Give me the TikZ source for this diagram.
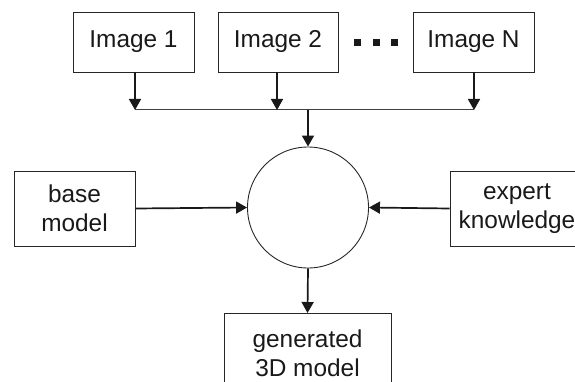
\documentclass[tikz,border=0pt]{standalone}
\usepackage{fontspec}
\setmainfont{Liberation Sans}
\usetikzlibrary{arrows.meta,shapes.geometric}
\begin{document}
\begin{tikzpicture}[x=1pt,y=-1pt,
  box/.style={draw=black!85, line width=0.9pt, inner sep=0pt, align=center,
    font=\fontsize{24.4}{29}\selectfont, text=black!90},
  arr/.style={draw=black!90, line width=1.7pt, -{Triangle[length=11pt,width=12pt]}},
  joinline/.style={draw=black!75, line width=1pt},
  sqdot/.style={fill=black!90, minimum size=7pt, inner sep=0pt}]
\useasboundingbox (0,0) rectangle (575,382);
\clip (0,0) rectangle (575,382);
\node[box, minimum width=121, minimum height=60] (i1) at (133.5,42) {Image 1};
\node[box, minimum width=120, minimum height=60] (i2) at (278,42) {Image 2};
\node[box, minimum width=121, minimum height=60] (iN) at (473.5,42) {Image N};
\node[sqdot] (d1) at (357.5,43) {};
\node[sqdot] (d2) at (376,43) {};
\node[sqdot] (d3) at (394.5,43) {};
\coordinate (j) at (308,110);
\coordinate (j1) at (135,110);
\coordinate (j2) at (277,110);
\coordinate (jN) at (474,110);
\draw[joinline] (j1) -- (jN);
\draw[arr] (i1.south -| j1) -- (j1);
\draw[arr] (i2.south -| j2) -- (j2);
\draw[arr] (iN.south -| jN) -- (jN);
\node[draw=black!85, circle, line width=0.9pt, minimum size=121, inner sep=0pt] (c) at (308,207.5) {};
\draw[arr] (j) -- (c.north);
\node[box, minimum width=121, minimum height=75] (b) at (74.5,208.5) {base\\model};
\node[box, minimum width=134, minimum height=75] (e) at (517,208.5) {expert\\knowledge};
\draw[arr] (b.east) -- (c.west);
\draw[arr] (e.west) -- (c.east);
\node[box, minimum width=167, minimum height=80, anchor=north] (g) at (307.5,313) {generated\\3D model};
\draw[arr] (c.south) -- (g.north);
\end{tikzpicture}
\end{document}
